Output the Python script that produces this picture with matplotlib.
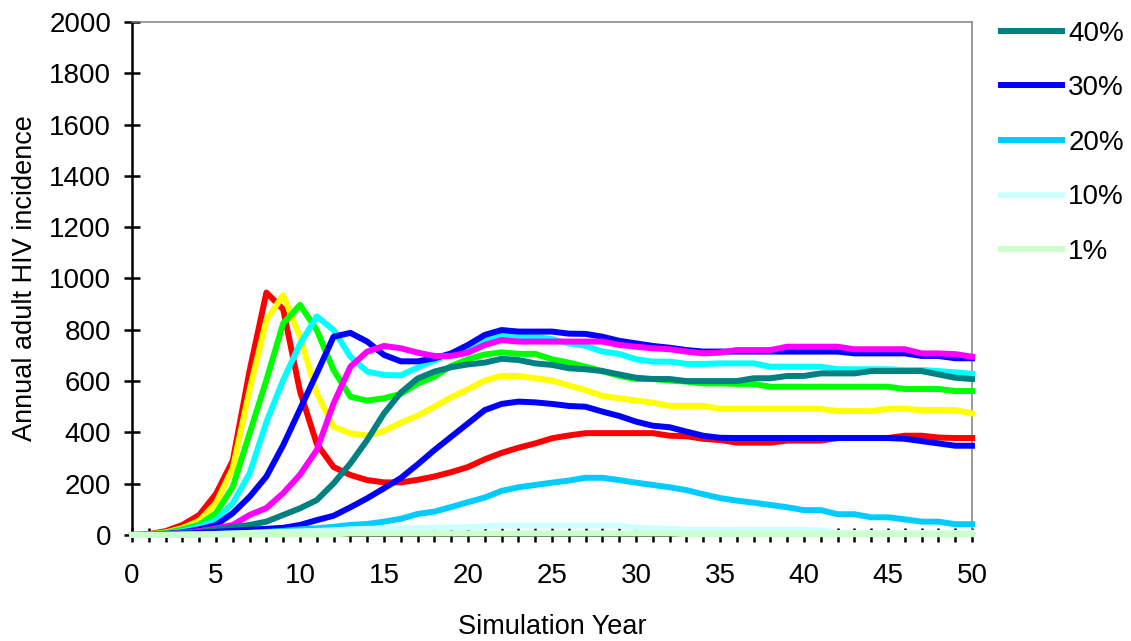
import numpy as np
import matplotlib
matplotlib.use('Agg')
import matplotlib.pyplot as plt

plt.rcParams['font.family'] = ['Liberation Sans', 'DejaVu Sans']

years = np.arange(51)

# unlabelled runs (legend in the original only shows the last five)
run_red = [0, 3, 15, 39, 78, 160, 290, 640, 945, 880, 560, 355, 265, 234, 214, 205, 205, 215, 228, 245,
           265, 295, 320, 340, 357, 377, 388, 397, 397, 397, 397, 397, 387, 385, 375, 370, 360, 360, 360, 368,
           368, 368, 378, 378, 378, 378, 387, 387, 380, 378, 378]
run_yellow = [0, 2, 10, 27, 55, 124, 260, 565, 838, 935, 773, 553, 422, 396, 388, 405, 438, 465, 500, 537,
              568, 602, 620, 620, 611, 602, 583, 565, 542, 533, 524, 516, 503, 503, 503, 492, 492, 492, 492, 492,
              492, 492, 483, 483, 483, 492, 492, 487, 487, 487, 474]
run_green = [0, 2, 8, 22, 40, 85, 188, 396, 604, 825, 897, 799, 643, 539, 524, 533, 550, 590, 617, 659,
             685, 704, 712, 706, 706, 685, 672, 656, 639, 620, 608, 608, 602, 598, 591, 591, 589, 589, 578, 578,
             578, 578, 578, 578, 578, 578, 569, 569, 569, 561, 561]
run_cyan = [0, 1, 5, 15, 32, 58, 124, 240, 440, 604, 745, 852, 799, 695, 637, 624, 622, 653, 680, 706,
            728, 760, 780, 773, 773, 763, 747, 737, 715, 706, 685, 676, 676, 667, 667, 669, 669, 669, 656, 656,
            656, 656, 646, 646, 646, 646, 643, 643, 639, 634, 628]
run_blue = [0, 1, 4, 10, 22, 39, 85, 149, 228, 350, 490, 630, 773, 788, 754, 702, 677, 677, 689, 708,
            741, 780, 799, 793, 793, 793, 785, 784, 773, 757, 747, 737, 730, 721, 715, 715, 715, 715, 715, 715,
            715, 715, 715, 708, 708, 708, 708, 698, 698, 689, 689]
run_magenta = [0, 1, 3, 8, 15, 26, 39, 78, 105, 163, 235, 331, 513, 656, 715, 737, 728, 711, 698, 698,
               711, 741, 760, 754, 754, 754, 754, 754, 754, 741, 734, 728, 724, 715, 708, 711, 721, 721, 721, 734,
               734, 734, 734, 724, 724, 724, 724, 708, 708, 705, 695]

pct40 = [0, 1, 3, 6, 12, 22, 30, 39, 52, 78, 104, 136, 201, 279, 370, 474, 555, 610, 637, 654,
         665, 672, 687, 682, 669, 663, 650, 646, 639, 626, 613, 608, 608, 600, 600, 600, 600, 611, 611, 620,
         620, 630, 630, 630, 639, 639, 639, 639, 626, 613, 608]
pct30 = [0, 0, 2, 4, 8, 12, 16, 20, 24, 28, 39, 58, 75, 108, 143, 182, 222, 275, 331, 383,
         435, 487, 511, 520, 517, 511, 503, 500, 481, 464, 442, 426, 420, 403, 387, 379, 378, 378, 378, 378,
         378, 378, 378, 378, 378, 378, 375, 366, 357, 348, 348]
pct20 = [0, 0, 1, 2, 3, 4, 6, 8, 12, 16, 22, 26, 32, 39, 43, 52, 63, 82, 91, 109,
         128, 146, 172, 186, 195, 204, 212, 223, 223, 214, 204, 195, 186, 175, 159, 144, 134, 126, 117, 108,
         97, 97, 81, 81, 69, 69, 61, 52, 52, 42, 42]
pct10 = [0, 0, 0, 1, 2, 4, 6, 8, 10, 12, 14, 16, 18, 22, 24, 25, 26, 27, 28, 30,
         30, 34, 36, 37, 37, 37, 37, 37, 37, 36, 28, 26, 24, 20, 20, 20, 19, 19, 19, 19,
         19, 18, 8, 8, 8, 8, 8, 8, 8, 8, 8]
pct1 = [1, 1, 1, 1, 2, 2, 2, 2, 2, 2, 2, 2, 2, 6, 6, 6, 6, 6, 6, 6,
        6, 6, 6, 6, 6, 6, 6, 6, 6, 6, 6, 6, 6, 3, 3, 3, 3, 3, 3, 3,
        3, 3, 3, 3, 3, 3, 3, 3, 3, 3, 3]

series = [run_red, run_yellow, run_green, run_cyan, run_blue, run_magenta,
          pct40, pct30, pct20, pct10, pct1]
colors = ['#FF0000', '#FFFF00', '#00FF00', '#00FFFF', '#0000FF', '#FF00FF',
          '#008080', '#0000FF', '#00CCFF', '#CCFFFF', '#CCFFCC']
labels = ['_nolegend_'] * 6 + ['40%', '30%', '20%', '10%', '1%']

fig, ax = plt.subplots(figsize=(11.31, 6.41), dpi=100)
fig.subplots_adjust(left=0.1167, right=0.8594, top=0.9657, bottom=0.1654)

for vals, col, lab in zip(series, colors, labels):
    ax.plot(years, vals, color=col, lw=4.3, label=lab, zorder=3, clip_on=False,
            solid_joinstyle='round')

ax.set_xlim(0, 50)
ax.set_ylim(0, 2000)
ax.set_xticks(years)
ax.set_xticklabels([str(y) if y % 5 == 0 else '' for y in years])
ax.set_yticks(range(0, 2001, 200))

ax.tick_params(axis='x', direction='inout', length=10, width=1.8, pad=15, labelsize=20)
ax.tick_params(axis='y', direction='inout', length=12, width=1.8, pad=9, labelsize=20)

for side in ['left', 'bottom']:
    ax.spines[side].set_color('black')
    ax.spines[side].set_linewidth(1.8)
for side in ['top', 'right']:
    ax.spines[side].set_color('#808080')
    ax.spines[side].set_linewidth(1.1)

ax.set_xlabel('Simulation Year', fontsize=19.5, labelpad=18)
ax.set_ylabel('Annual adult HIV incidence', fontsize=19.5, labelpad=8)

ax.legend(loc='upper left', bbox_to_anchor=(1001 / 1131, 0.968), bbox_transform=fig.transFigure,
          frameon=False, fontsize=20, handlelength=2.2, handletextpad=0.22,
          labelspacing=1.03, borderpad=0, borderaxespad=0)

fig.savefig('out.png', dpi=100)
